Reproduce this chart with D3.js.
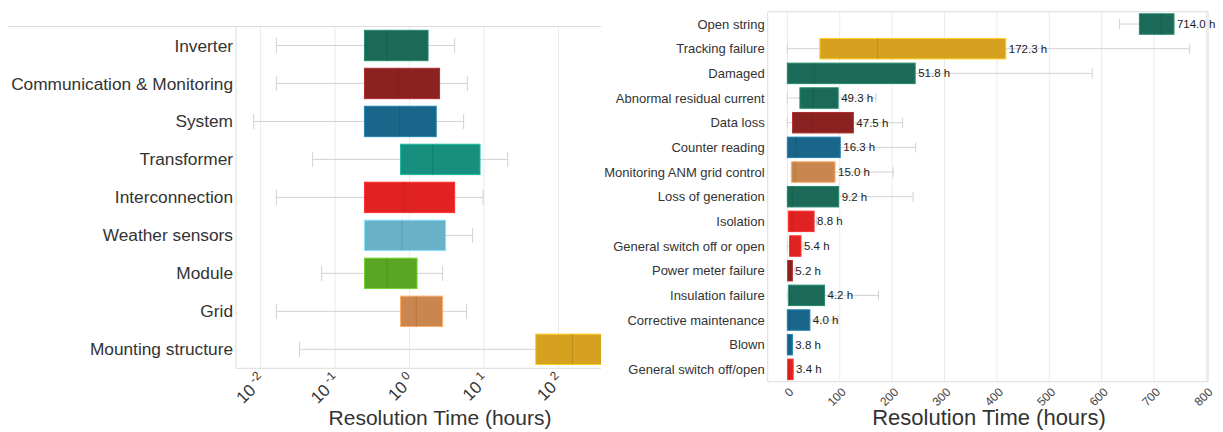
<!DOCTYPE html>
<html>
<head>
<meta charset="utf-8">
<script src="https://cdn.jsdelivr.net/npm/d3@7"></script>
<style>
  body { margin: 0; background: #fff; }
  text { font-family: "Liberation Sans", Arial, sans-serif; }
</style>
</head>
<body>
<svg id="chart" width="1223" height="432"></svg>
<script>
// Left panel: resolution time per component (log scale)
const leftCategories = ["Inverter", "Communication & Monitoring", "System", "Transformer",
  "Interconnection", "Weather sensors", "Module", "Grid", "Mounting structure"];
const leftMin    = [0.0163, 0.0163, 0.0081, 0.050, 0.0163, 0.248, 0.066, 0.0163, 0.0333];
const leftQ1     = [0.248, 0.248, 0.248, 0.757, 0.248, 0.248, 0.248, 0.757, 49.4];
const leftMedian = [0.497, 0.70, 0.727, 2.04, 0.849, 0.79, 0.497, 1.23, 153.8];
const leftQ3     = [1.77, 2.53, 2.28, 8.83, 4.03, 3.05, 1.26, 2.78, 900];
const leftMax    = [4.03, 5.97, 5.32, 20.8, 9.69, 7.03, 2.78, 5.83, 2000];
const leftColors = ["#1b6a57", "#8a2222", "#19668a", "#168f7e", "#e02222",
  "#69b1c7", "#58a623", "#c9874f", "#d5a11f"];
const leftTickExp = [-2, -1, 0, 1, 2];

// Right panel: resolution time per failure type (linear scale)
const rightCategories = ["Open string", "Tracking failure", "Damaged", "Abnormal residual current",
  "Data loss", "Counter reading", "Monitoring ANM grid control", "Loss of generation", "Isolation",
  "General switch off or open", "Power meter failure", "Insulation failure",
  "Corrective maintenance", "Blown", "General switch off/open"];
const rightMin    = [634, 0, 0, 0, 0, 0, 7.7, 0, 2, 0, 0.7, 0, 0, 0, 0.7];
const rightQ1     = [672, 62, 0, 24, 10, 0, 7.7, 0, 2, 4.6, 0.7, 2.6, 0, 0, 0.7];
const rightMedian = [714.0, 172.3, 51.8, 49.3, 47.5, 16.3, 15.0, 9.2, 8.8, 5.4, 5.2, 4.2, 4.0, 3.8, 3.4];
const rightQ3     = [738, 417, 244, 97, 126, 101, 91, 98, 51, 26, 9.6, 71, 43, 9.6, 11];
const rightMax    = [738, 768, 582, 169, 220, 245, 202, 240, 56, 30, 14.7, 174, 97, 9.6, 11];
const rightColors = ["#1b6a57", "#d5a11f", "#1b6a57", "#1b6a57", "#8a2222", "#19668a",
  "#c9874f", "#1b6a57", "#e02222", "#e02222", "#8a2222", "#1b6a57", "#19668a", "#19668a", "#e02222"];
const rightTicks = [0, 100, 200, 300, 400, 500, 600, 700, 800];

const svg = d3.select("#chart");
const gridColor = "#ebebeb";
const frameColor = "#dcdcdc";
const whiskerColor = "#d2d2d2";

// draw one horizontal box plot row set
function drawBoxes(g, x, y, cats, mins, q1s, meds, q3s, maxs, colors, boxFrac) {
  const bh = y.bandwidth() * boxFrac;
  cats.forEach((c, i) => {
    const cy = y(c) + y.bandwidth() / 2;
    const row = g.append("g");
    // whiskers
    row.append("line")
      .attr("x1", x(mins[i])).attr("x2", x(q1s[i]))
      .attr("y1", cy).attr("y2", cy)
      .attr("stroke", whiskerColor);
    row.append("line")
      .attr("x1", x(q3s[i])).attr("x2", x(maxs[i]))
      .attr("y1", cy).attr("y2", cy)
      .attr("stroke", whiskerColor);
    [mins[i], maxs[i]].forEach(v => {
      row.append("line")
        .attr("x1", x(v)).attr("x2", x(v))
        .attr("y1", cy - bh / 4).attr("y2", cy + bh / 4)
        .attr("stroke", whiskerColor);
    });
    // box
    row.append("rect")
      .attr("x", x(q1s[i]))
      .attr("y", cy - bh / 2)
      .attr("width", Math.max(1, x(q3s[i]) - x(q1s[i])))
      .attr("height", bh)
      .attr("fill", colors[i])
      .attr("stroke", d3.color(colors[i]).brighter(0.7))
      .attr("stroke-width", 1);
    // median
    row.append("line")
      .attr("x1", x(meds[i])).attr("x2", x(meds[i]))
      .attr("y1", cy - bh / 2).attr("y2", cy + bh / 2)
      .attr("stroke", d3.color(colors[i]).darker(0.3))
      .attr("stroke-width", 1);
  });
}

// ---------- Left panel ----------
const L = { left: 236, right: 601, top: 26.5, bottom: 368.3 };
const xL = d3.scaleLog()
  .domain([Math.pow(10, -2.33), Math.pow(10, 2.57)])
  .range([L.left, L.right]);
const yL = d3.scaleBand().domain(leftCategories).range([L.top, L.bottom]).padding(0);

svg.append("clipPath").attr("id", "clipL")
  .append("rect").attr("x", L.left).attr("y", L.top)
  .attr("width", L.right - L.left).attr("height", L.bottom - L.top);

const gL = svg.append("g");
gL.selectAll(".gridL").data(leftTickExp).join("line")
  .attr("x1", d => xL(Math.pow(10, d))).attr("x2", d => xL(Math.pow(10, d)))
  .attr("y1", L.top).attr("y2", L.bottom)
  .attr("stroke", gridColor);

drawBoxes(gL.append("g").attr("clip-path", "url(#clipL)"), xL, yL, leftCategories,
  leftMin, leftQ1, leftMedian, leftQ3, leftMax, leftColors, 0.8);

// frame
gL.append("line").attr("x1", 8).attr("x2", L.right).attr("y1", L.top).attr("y2", L.top)
  .attr("stroke", frameColor);
gL.append("line").attr("x1", L.left).attr("x2", L.left).attr("y1", L.top).attr("y2", L.bottom)
  .attr("stroke", frameColor);
gL.append("line").attr("x1", L.left).attr("x2", L.right).attr("y1", L.bottom).attr("y2", L.bottom)
  .attr("stroke", frameColor);

// category labels
gL.selectAll(".catL").data(leftCategories).join("text")
  .attr("x", L.left - 3)
  .attr("y", d => yL(d) + yL.bandwidth() / 2)
  .attr("dy", "0.35em")
  .attr("text-anchor", "end")
  .attr("font-size", 17.3)
  .attr("fill", "#333")
  .text(d => d);

// tick labels 10^n, rotated
const tickL = gL.selectAll(".tickL").data(leftTickExp).join("text")
  .attr("text-anchor", "end")
  .attr("font-size", 17)
  .attr("fill", "#333")
  .attr("transform", d => `translate(${xL(Math.pow(10, d)) + 6},${L.bottom + 13}) rotate(-45)`);
tickL.append("tspan").text("10");
tickL.append("tspan").attr("font-size", 12).attr("dy", -7).text(d => " " + (d < 0 ? "-" + (-d) : d));

gL.append("text")
  .attr("x", 440).attr("y", 425)
  .attr("text-anchor", "middle")
  .attr("font-size", 21)
  .attr("fill", "#333")
  .text("Resolution Time (hours)");

// ---------- Right panel ----------
const R = { left: 767.7, right: 1208, top: 11.7, bottom: 381.7 };
const xR = d3.scaleLinear().domain([-37.5, 803]).range([R.left, R.right]);
const yR = d3.scaleBand().domain(rightCategories).range([R.top, R.bottom]).padding(0);

const gR = svg.append("g");
gR.selectAll(".gridR").data(rightTicks).join("line")
  .attr("x1", d => xR(d)).attr("x2", d => xR(d))
  .attr("y1", R.top).attr("y2", R.bottom)
  .attr("stroke", gridColor);

gR.append("rect")
  .attr("x", R.left).attr("y", R.top)
  .attr("width", R.right - R.left).attr("height", R.bottom - R.top)
  .attr("fill", "none").attr("stroke", frameColor);

drawBoxes(gR.append("g"), xR, yR, rightCategories,
  rightMin, rightQ1, rightMedian, rightQ3, rightMax, rightColors, 0.83);

// median value labels
gR.selectAll(".valR").data(rightCategories).join("text")
  .attr("x", (d, i) => xR(rightQ3[i]) + 3)
  .attr("y", d => yR(d) + yR.bandwidth() / 2)
  .attr("dy", "0.35em")
  .attr("font-size", 11.5)
  .attr("fill", "#222")
  .text((d, i) => rightMedian[i].toFixed(1) + " h");

gR.selectAll(".catR").data(rightCategories).join("text")
  .attr("x", R.left - 3)
  .attr("y", d => yR(d) + yR.bandwidth() / 2)
  .attr("dy", "0.35em")
  .attr("text-anchor", "end")
  .attr("font-size", 13)
  .attr("fill", "#333")
  .text(d => d);

gR.selectAll(".tickR").data(rightTicks).join("text")
  .attr("text-anchor", "end")
  .attr("font-size", 12)
  .attr("fill", "#444")
  .attr("transform", d => `translate(${xR(d) + 7},${R.bottom + 11}) rotate(-45)`)
  .text(d => d);

gR.append("text")
  .attr("x", 989).attr("y", 425)
  .attr("text-anchor", "middle")
  .attr("font-size", 22)
  .attr("fill", "#333")
  .text("Resolution Time (hours)");
</script>
</body>
</html>
